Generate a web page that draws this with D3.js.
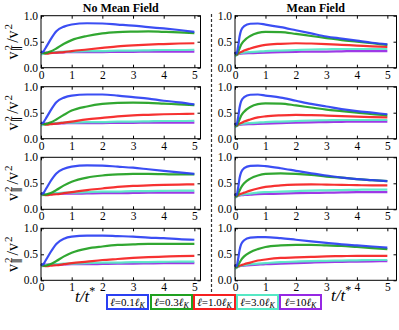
<!DOCTYPE html>
<html>
<head>
<meta charset="utf-8">
<script src="https://cdn.jsdelivr.net/npm/d3@7"></script>
<style>
  body { margin: 0; background: #fff; }
  svg text { font-family: "Liberation Serif", "DejaVu Serif", serif; }
</style>
</head>
<body>
<svg id="chart"></svg>
<script>
/* sample times shared by every curve */
var tVals = [0, 0.05, 0.1, 0.15, 0.2, 0.3, 0.5, 0.75, 1, 1.5, 2, 2.5, 3, 3.5, 4, 4.5, 5];

var xTicks = [0, 1, 2, 3, 4, 5];
var yTicks = [0, 0.5, 1.0];
var titles = ["No Mean Field", "Mean Field"];
var ellValues = ["0.1", "0.3", "1.0", "3.0", "10"];
var colors = ["#2a3ff2", "#20a020", "#f52020", "#55e8c4", "#9628e4"];

/* each panel: blue, green, red, teal, purple  (v_par^2 / v^2) */
var noMean1 = [
  [0.31, 0.30, 0.33, 0.38, 0.43, 0.53, 0.70, 0.79, 0.83, 0.855, 0.85, 0.83, 0.81, 0.78, 0.755, 0.725, 0.69],
  [0.31, 0.29, 0.28, 0.28, 0.29, 0.31, 0.37, 0.46, 0.53, 0.61, 0.66, 0.685, 0.695, 0.70, 0.69, 0.68, 0.665],
  [0.31, 0.29, 0.28, 0.27, 0.27, 0.28, 0.29, 0.30, 0.32, 0.35, 0.38, 0.41, 0.43, 0.445, 0.455, 0.465, 0.47],
  [0.26, 0.26, 0.27, 0.28, 0.28, 0.29, 0.30, 0.31, 0.31, 0.32, 0.32, 0.33, 0.33, 0.335, 0.34, 0.34, 0.345],
  [0.30, 0.30, 0.29, 0.29, 0.29, 0.29, 0.29, 0.295, 0.30, 0.30, 0.30, 0.305, 0.305, 0.31, 0.31, 0.31, 0.31]
];
var noMean2 = [
  [0.31, 0.30, 0.33, 0.38, 0.43, 0.53, 0.70, 0.79, 0.83, 0.85, 0.85, 0.83, 0.80, 0.77, 0.73, 0.70, 0.66],
  [0.31, 0.29, 0.28, 0.28, 0.29, 0.31, 0.37, 0.46, 0.54, 0.62, 0.67, 0.69, 0.695, 0.69, 0.675, 0.66, 0.645],
  [0.31, 0.29, 0.28, 0.27, 0.27, 0.28, 0.29, 0.31, 0.33, 0.37, 0.40, 0.43, 0.45, 0.46, 0.47, 0.475, 0.48],
  [0.26, 0.26, 0.27, 0.28, 0.28, 0.29, 0.30, 0.31, 0.31, 0.32, 0.32, 0.33, 0.33, 0.335, 0.34, 0.34, 0.345],
  [0.30, 0.30, 0.29, 0.29, 0.29, 0.29, 0.29, 0.295, 0.30, 0.30, 0.30, 0.305, 0.305, 0.31, 0.31, 0.31, 0.31]
];
var noMean3 = [
  [0.31, 0.30, 0.33, 0.38, 0.43, 0.53, 0.69, 0.78, 0.82, 0.845, 0.84, 0.82, 0.80, 0.77, 0.74, 0.71, 0.68],
  [0.31, 0.29, 0.28, 0.28, 0.29, 0.31, 0.37, 0.46, 0.53, 0.61, 0.65, 0.67, 0.68, 0.68, 0.675, 0.67, 0.67],
  [0.31, 0.29, 0.28, 0.27, 0.27, 0.28, 0.29, 0.31, 0.33, 0.37, 0.40, 0.43, 0.45, 0.46, 0.47, 0.475, 0.48],
  [0.27, 0.27, 0.28, 0.29, 0.29, 0.30, 0.31, 0.32, 0.32, 0.33, 0.34, 0.34, 0.35, 0.35, 0.355, 0.36, 0.36],
  [0.30, 0.30, 0.29, 0.29, 0.29, 0.29, 0.30, 0.30, 0.30, 0.305, 0.31, 0.31, 0.315, 0.32, 0.32, 0.32, 0.32]
];
var noMean4 = [
  [0.31, 0.30, 0.33, 0.38, 0.43, 0.53, 0.70, 0.80, 0.84, 0.86, 0.86, 0.85, 0.84, 0.82, 0.81, 0.79, 0.78],
  [0.31, 0.29, 0.28, 0.28, 0.29, 0.31, 0.37, 0.46, 0.53, 0.61, 0.65, 0.68, 0.69, 0.70, 0.70, 0.70, 0.70],
  [0.31, 0.29, 0.28, 0.27, 0.27, 0.28, 0.29, 0.31, 0.33, 0.36, 0.39, 0.41, 0.43, 0.445, 0.455, 0.465, 0.47],
  [0.27, 0.27, 0.28, 0.29, 0.29, 0.30, 0.31, 0.32, 0.32, 0.33, 0.34, 0.34, 0.35, 0.35, 0.355, 0.36, 0.36],
  [0.30, 0.30, 0.30, 0.30, 0.30, 0.30, 0.30, 0.305, 0.31, 0.31, 0.315, 0.32, 0.32, 0.325, 0.33, 0.33, 0.33]
];

var meanField1 = [
  [0.30, 0.27, 0.40, 0.60, 0.72, 0.80, 0.845, 0.85, 0.83, 0.78, 0.72, 0.66, 0.60, 0.56, 0.52, 0.48, 0.45],
  [0.30, 0.25, 0.30, 0.37, 0.44, 0.52, 0.61, 0.67, 0.69, 0.685, 0.65, 0.61, 0.57, 0.53, 0.50, 0.47, 0.44],
  [0.30, 0.25, 0.27, 0.29, 0.30, 0.33, 0.37, 0.41, 0.44, 0.46, 0.47, 0.465, 0.455, 0.44, 0.425, 0.41, 0.40],
  [0.22, 0.24, 0.26, 0.27, 0.28, 0.29, 0.30, 0.31, 0.32, 0.33, 0.34, 0.35, 0.355, 0.36, 0.36, 0.36, 0.36],
  [0.28, 0.25, 0.26, 0.265, 0.27, 0.275, 0.28, 0.285, 0.29, 0.30, 0.305, 0.31, 0.31, 0.315, 0.32, 0.32, 0.32]
];
var meanField2 = [
  [0.30, 0.27, 0.40, 0.60, 0.72, 0.80, 0.845, 0.85, 0.83, 0.79, 0.73, 0.67, 0.62, 0.57, 0.53, 0.50, 0.47],
  [0.30, 0.25, 0.30, 0.37, 0.44, 0.52, 0.61, 0.665, 0.68, 0.675, 0.64, 0.60, 0.56, 0.53, 0.50, 0.47, 0.45],
  [0.30, 0.25, 0.27, 0.29, 0.30, 0.33, 0.37, 0.41, 0.43, 0.45, 0.46, 0.455, 0.445, 0.435, 0.425, 0.415, 0.41],
  [0.22, 0.24, 0.26, 0.27, 0.28, 0.29, 0.30, 0.31, 0.32, 0.33, 0.34, 0.35, 0.355, 0.36, 0.36, 0.36, 0.36],
  [0.28, 0.25, 0.26, 0.265, 0.27, 0.275, 0.28, 0.285, 0.29, 0.30, 0.31, 0.315, 0.32, 0.325, 0.33, 0.33, 0.33]
];
var meanField3 = [
  [0.30, 0.27, 0.40, 0.60, 0.71, 0.79, 0.835, 0.84, 0.83, 0.79, 0.74, 0.69, 0.65, 0.61, 0.58, 0.56, 0.54],
  [0.30, 0.25, 0.30, 0.36, 0.42, 0.50, 0.59, 0.65, 0.68, 0.69, 0.68, 0.66, 0.63, 0.61, 0.58, 0.56, 0.54],
  [0.30, 0.25, 0.27, 0.29, 0.30, 0.32, 0.36, 0.40, 0.43, 0.46, 0.475, 0.48, 0.475, 0.47, 0.465, 0.46, 0.46],
  [0.22, 0.24, 0.26, 0.27, 0.28, 0.29, 0.30, 0.32, 0.33, 0.34, 0.35, 0.36, 0.365, 0.37, 0.375, 0.38, 0.38],
  [0.28, 0.25, 0.26, 0.265, 0.27, 0.275, 0.28, 0.29, 0.295, 0.30, 0.31, 0.315, 0.32, 0.325, 0.33, 0.33, 0.33]
];
var meanField4 = [
  [0.30, 0.27, 0.40, 0.58, 0.69, 0.77, 0.82, 0.83, 0.83, 0.81, 0.78, 0.75, 0.72, 0.69, 0.67, 0.65, 0.63],
  [0.30, 0.25, 0.29, 0.34, 0.39, 0.46, 0.54, 0.60, 0.64, 0.67, 0.68, 0.68, 0.67, 0.66, 0.64, 0.62, 0.60],
  [0.30, 0.25, 0.27, 0.28, 0.29, 0.31, 0.34, 0.38, 0.40, 0.43, 0.44, 0.45, 0.46, 0.465, 0.47, 0.47, 0.47],
  [0.22, 0.24, 0.26, 0.27, 0.28, 0.29, 0.31, 0.32, 0.33, 0.35, 0.36, 0.37, 0.375, 0.38, 0.385, 0.39, 0.39],
  [0.28, 0.25, 0.26, 0.27, 0.275, 0.28, 0.29, 0.30, 0.31, 0.32, 0.33, 0.34, 0.35, 0.355, 0.36, 0.365, 0.37]
];

var columns = [
  [noMean1, noMean2, noMean3, noMean4],
  [meanField1, meanField2, meanField3, meanField4]
];

/* page and panel geometry */
var svgWidth = 399, svgHeight = 330;
var colLeft = [41, 235], colRight = [200.5, 396.5], colXMax = [5.2, 5.3];
var rowTop = [15.7, 86.7, 157.3, 228.3], panelHeight = 52;

var svg = d3.select("#chart")
    .attr("width", svgWidth)
    .attr("height", svgHeight);

var y = d3.scaleLinear().domain([0, 1]).range([panelHeight, 0]);

columns.forEach(function(panels, c) {
    var x = d3.scaleLinear().domain([0, colXMax[c]]).range([0, colRight[c] - colLeft[c]]);
    var w = colRight[c] - colLeft[c];

    svg.append("text")
        .attr("x", colLeft[c] + w / 2)
        .attr("y", 12)
        .attr("text-anchor", "middle")
        .attr("font-size", 12)
        .attr("font-weight", "bold")
        .text(titles[c]);

    panels.forEach(function(series, r) {
        var g = svg.append("g")
            .attr("transform", "translate(" + colLeft[c] + "," + rowTop[r] + ")");

        var line = d3.line()
            .x(function(d, i) { return x(tVals[i]); })
            .y(function(d) { return y(d); })
            .curve(d3.curveMonotoneX);

        // purple first so blue ends up on top
        series.slice().reverse().forEach(function(vals, k) {
            var idx = series.length - 1 - k;
            g.append("path")
                .attr("d", line(vals))
                .attr("fill", "none")
                .attr("stroke", colors[idx])
                .attr("stroke-width", 2.2)
                .attr("stroke-opacity", 0.92);
        });

        // inward ticks on all four sides
        g.append("g").call(d3.axisBottom(x).tickValues(xTicks).tickSizeInner(-3).tickSizeOuter(0).tickFormat(d3.format("d")))
            .attr("transform", "translate(0," + panelHeight + ")")
            .call(styleAxis);
        g.append("g").call(d3.axisTop(x).tickValues(xTicks).tickSizeInner(-3).tickSizeOuter(0).tickFormat(""))
            .call(styleAxis);
        g.append("g").call(d3.axisLeft(y).tickValues(yTicks).tickSizeInner(-3).tickSizeOuter(0).tickFormat(d3.format(".1f")))
            .call(styleAxis);
        g.append("g").call(d3.axisRight(y).tickValues(yTicks).tickSizeInner(-3).tickSizeOuter(0).tickFormat(""))
            .attr("transform", "translate(" + w + ",0)")
            .call(styleAxis);

        g.append("rect")
            .attr("width", w)
            .attr("height", panelHeight)
            .attr("fill", "none")
            .attr("stroke", "#000")
            .attr("stroke-width", 1);

        // y label only on the left column
        if (c === 0) {
            var lab = svg.append("text")
                .attr("transform", "translate(18," + (rowTop[r] + panelHeight / 2) + ") rotate(-90)")
                .attr("text-anchor", "middle")
                .attr("font-size", 16);
            lab.append("tspan").text("v");
            lab.append("tspan").attr("font-size", 11).attr("dx", 1).attr("dy", -6).text("2");
            lab.append("tspan").attr("font-size", 11).attr("dx", -6).attr("dy", 9).text("\u2225");
            lab.append("tspan").attr("dx", 3).attr("dy", -3).text("/v");
            lab.append("tspan").attr("font-size", 11).attr("dx", 1).attr("dy", -6).text("2");
        }
    });
});

function styleAxis(sel) {
    sel.select(".domain").remove();
    sel.selectAll(".tick line").attr("stroke", "#000");
    sel.selectAll(".tick text")
        .attr("font-family", "Liberation Serif, serif")
        .attr("font-size", 11.5)
        .attr("fill", "#000");
}

// nudge y tick labels a little closer
svg.selectAll(".tick text").each(function() {
    var t = d3.select(this);
    if (t.attr("x") !== null && +t.attr("x") < 0) t.attr("x", -3);
});

/* dashed separator between the columns */
svg.append("line")
    .attr("x1", 211.5).attr("x2", 211.5)
    .attr("y1", 14).attr("y2", 294)
    .attr("stroke", "#333")
    .attr("stroke-width", 1.2)
    .attr("stroke-dasharray", "3,2");

/* x labels */
function timeLabel(xp, yp) {
    var tl = svg.append("text")
        .attr("x", xp).attr("y", yp)
        .attr("font-size", 17)
        .attr("font-style", "italic");
    tl.append("tspan").text("t/t");
    tl.append("tspan").attr("font-size", 12).attr("dy", -7).attr("font-style", "normal").text("*");
}
timeLabel(75, 302);
timeLabel(331, 301);

/* legend */
var legendX = [107, 151, 194, 237, 280], legendW = 41;
ellValues.forEach(function(v, i) {
    var lg = svg.append("g").attr("transform", "translate(" + legendX[i] + ",295)");
    lg.append("rect")
        .attr("width", legendW)
        .attr("height", 14)
        .attr("fill", "#fff")
        .attr("stroke", colors[i])
        .attr("stroke-width", 2);
    var tx = lg.append("text")
        .attr("x", legendW / 2)
        .attr("y", 11)
        .attr("text-anchor", "middle")
        .attr("font-size", 11);
    tx.append("tspan").attr("font-style", "italic").text("\u2113");
    tx.append("tspan").text("=" + v);
    tx.append("tspan").attr("font-style", "italic").text("\u2113");
    tx.append("tspan").attr("font-style", "italic").attr("font-size", 8).attr("dy", 2).text("K");
});
</script>
</body>
</html>
